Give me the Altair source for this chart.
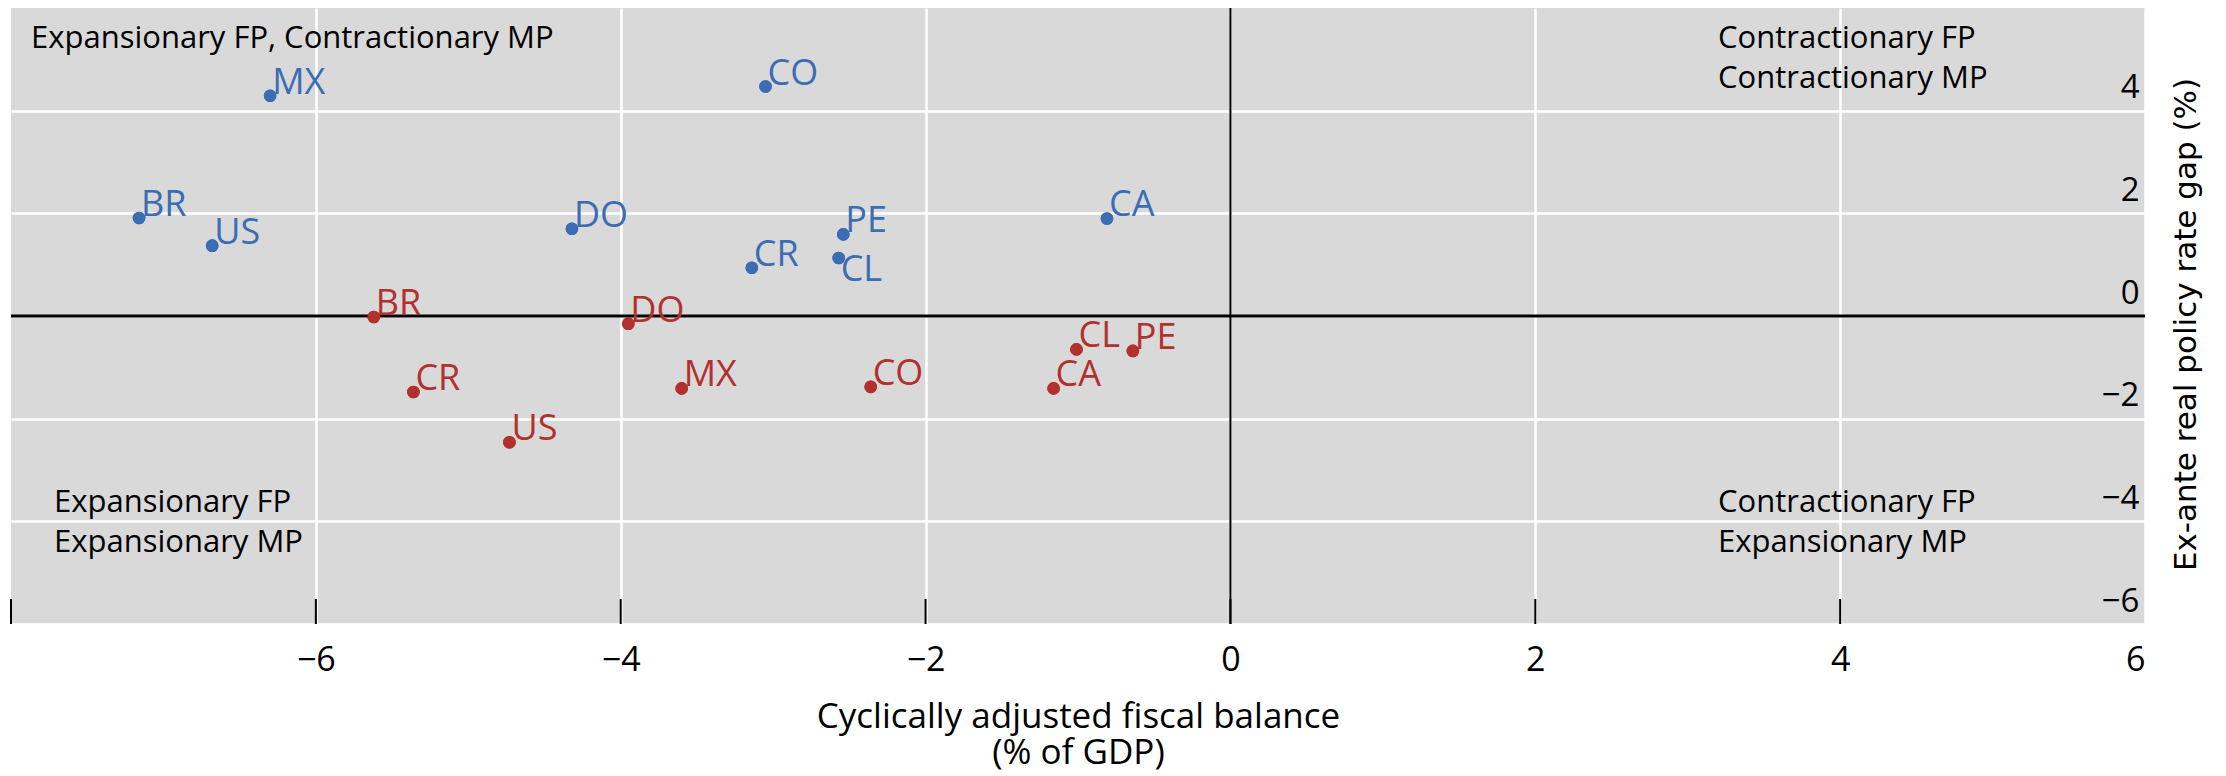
import altair as alt
import pandas as pd

# ---- data ----
codes_blue = ["MX", "CO", "BR", "US", "DO", "CR", "PE", "CL", "CA"]
x_blue = [-6.30, -3.05, -7.16, -6.68, -4.32, -3.14, -2.54, -2.57, -0.81]
y_blue = [4.29, 4.47, 1.91, 1.37, 1.70, 0.94, 1.59, 1.13, 1.90]

codes_red = ["BR", "DO", "CL", "PE", "CR", "MX", "CO", "CA", "US"]
x_red = [-5.62, -3.95, -1.01, -0.64, -5.36, -3.60, -2.36, -1.16, -4.73]
y_red = [-0.02, -0.15, -0.65, -0.68, -1.48, -1.41, -1.38, -1.41, -2.46]

x_ticks = [-8, -6, -4, -2, 0, 2, 4]
x_labels = [-6, -4, -2, 0, 2, 4, 6]
y_labels = [-6, -4, -2, 0, 2, 4]

BLUE = "#3b6db4"
RED = "#b2302d"
FONT = "Open Sans"
W, H = 2134, 616

df = pd.concat([
    pd.DataFrame({"code": codes_blue, "x": x_blue, "y": y_blue, "series": "blue"}),
    pd.DataFrame({"code": codes_red, "x": x_red, "y": y_red, "series": "red"}),
], ignore_index=True)

xs = alt.Scale(domain=[-8, 6], nice=False, zero=False)
ys = alt.Scale(domain=[-6, 6], nice=False, zero=False)
color = alt.Color("series:N", scale=alt.Scale(domain=["blue", "red"], range=[BLUE, RED]), legend=None)

base = alt.Chart(df)

points = base.mark_circle(size=160, opacity=1).encode(
    x=alt.X("x:Q", scale=xs,
            axis=alt.Axis(values=x_labels, format="d",
                          title=["Cyclically adjusted fiscal balance", "(% of GDP)"],
                          grid=True, ticks=False, tickSize=0, domain=False,
                          labelFont=FONT, labelFontSize=34, labelColor="black",
                          labelBaseline="alphabetic", labelPadding=46,
                          titleFont=FONT, titleFontSize=35, titleFontWeight="normal", titleColor="black",
                          titleLineHeight=36, titleBaseline="top", titleY=75)),
    y=alt.Y("y:Q", scale=ys,
            axis=alt.Axis(orient="right", values=y_labels, format="d",
                          title="Ex-ante real policy rate gap (%)",
                          grid=True, ticks=False, tickSize=0, domain=False,
                          labelFont=FONT, labelFontSize=33, labelColor="black",
                          labelAlign="right", labelBaseline="alphabetic", labelPadding=-6, labelOffset=-13,
                          titleFont="DejaVu Sans", titleFontSize=31, titleFontWeight="normal", titleColor="black",
                          titleAngle=270, titleAlign="center", titleBaseline="middle",
                          titleX=41, titleY=H / 2 + 8)),
    color=color,
)

labels_above = base.transform_filter(
    "!(datum.series == 'blue' && datum.code == 'CL')"
).mark_text(align="left", baseline="alphabetic", dx=2, dy=-2, font=FONT, fontSize=36).encode(
    x=alt.X("x:Q", scale=xs), y=alt.Y("y:Q", scale=ys), text="code:N", color=color)

labels_below = base.transform_filter(
    "datum.series == 'blue' && datum.code == 'CL'"
).mark_text(align="left", baseline="top", dx=2, dy=-5, font=FONT, fontSize=36).encode(
    x=alt.X("x:Q", scale=xs), y=alt.Y("y:Q", scale=ys), text="code:N", color=color)

zero_df = pd.DataFrame({"v": [0]})
hzero = alt.Chart(zero_df).mark_rule(color="black", strokeWidth=3).encode(y=alt.Y("v:Q", scale=ys))
vzero = alt.Chart(zero_df).mark_rule(color="black", strokeWidth=2).encode(x=alt.X("v:Q", scale=xs))

ticks = alt.Chart(pd.DataFrame({"t": x_ticks})).mark_rule(color="black", strokeWidth=2).encode(
    x=alt.X("t:Q", scale=xs), y=alt.value(H - 25), y2=alt.value(H))


def note(lines, px, py):
    return alt.Chart(alt.Data(values=[{}])).mark_text(
        text=lines, align="left", baseline="alphabetic", font=FONT, fontSize=31,
        lineHeight=40, color="black").encode(x=alt.value(px), y=alt.value(py))


notes = [
    note("Expansionary FP, Contractionary MP", 20, 40),
    note(["Contractionary FP", "Contractionary MP"], 1707, 40),
    note(["Expansionary FP", "Expansionary MP"], 43, 504),
    note(["Contractionary FP", "Expansionary MP"], 1707, 504),
]

chart = alt.layer(points, hzero, vzero, ticks, points, labels_above, labels_below, *notes).properties(
    width=W, height=H,
    autosize=alt.AutoSizeParams(type="none"),
    padding={"left": 3, "top": 0, "right": 70, "bottom": 150},
    background="white",
).configure_view(fill="#d9d9d9", stroke=None).configure_axis(gridColor="white", gridWidth=2.5, gridOpacity=1)

chart.save("out.html", embed_options={"renderer": "svg", "actions": False})
